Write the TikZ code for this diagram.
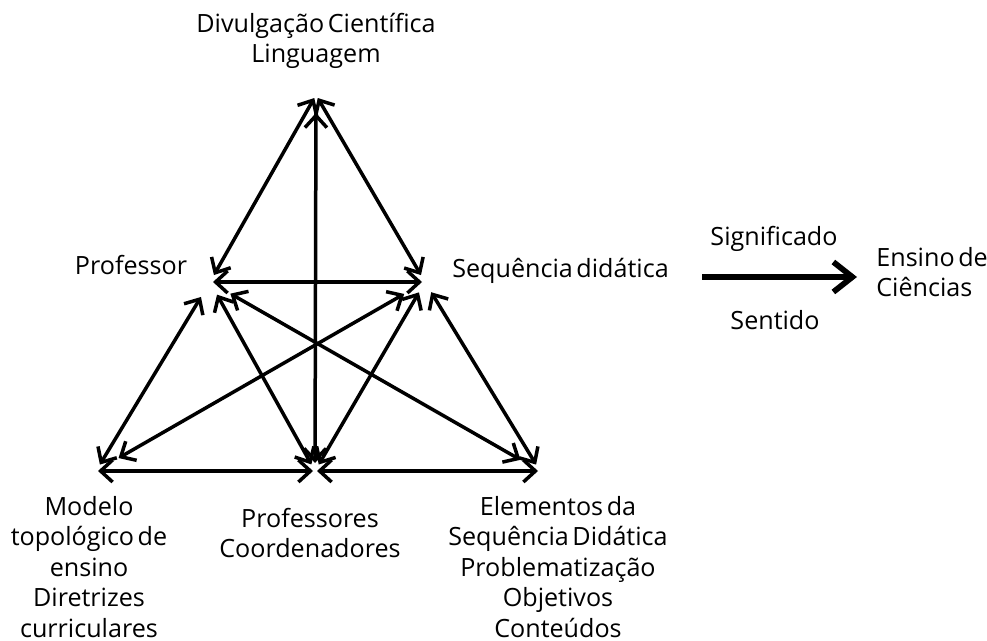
\documentclass[tikz,border=0pt]{standalone}
\usepackage{fontspec}
\setmainfont{Open Sans}[WordSpace=0.55]
\usetikzlibrary{arrows.meta}

\tikzset{
    link/.style={black, line width=0.7mm,
        {Straight Barb[length=2.4mm,width=4.4mm]}-{Straight Barb[length=2.4mm,width=4.4mm]}},
    bigarrow/.style={black, line width=1.15mm, -{Straight Barb[length=3.8mm,width=6mm]}},
    lbl/.style={inner sep=0pt, align=center},
}

\begin{document}
\begin{tikzpicture}[x=0.02cm, y=-0.02cm, font=\fontsize{14.3}{17.3}\selectfont]
        \useasboundingbox (0,0) rectangle (987,641);

        % hubs where the arrows meet
        \coordinate (top) at (316,95);
        \coordinate (prof) at (210,282);
        \coordinate (seq) at (425,282);
        \coordinate (mod) at (96,471);
        \coordinate (pc) at (315,471);
        \coordinate (elem) at (540,471);

        % labels
        \node[lbl, anchor=north] (divul) at (316,13) {Divulgação Científica\\Linguagem};
        \node[lbl, anchor=base] (profl) at (131,275) {Professor};
        \node[lbl, anchor=base west] (seql) at (452,278) {Sequência didática};
        \node[lbl, anchor=north] (modl) at (89,496) {Modelo\\topológico de\\ensino\\Diretrizes\\curriculares};
        \node[lbl, anchor=north] (pcl) at (310,508) {Professores\\Coordenadores};
        \node[lbl, anchor=north] (eleml) at (558,496) {Elementos da\\Sequência Didática\\Problematização\\Objetivos\\Conteúdos};

        % triangle of links
        \foreach \a/\b/\s/\e in {top/prof/0.7/1.6, top/seq/0.7/1.6, top/pc/3.6/1.6,
                prof/seq/0.6/0.6, prof/mod/3.5/1.5, prof/pc/2.9/1.5, prof/elem/4.7/4.5,
                seq/mod/4.8/5.2, seq/pc/2.4/1.5, seq/elem/2.4/1.5,
                mod/pc/0.4/0.4, pc/elem/0.4/0.4} {
            \draw [link, shorten <=\s mm, shorten >=\e mm] (\a) -- (\b);
        }

        % result
        \coordinate (from) at (702,277);
        \coordinate (to) at (857,277);
        \draw [bigarrow] (from) -- (to);
        \node[lbl, anchor=base] (sig) at (774,246) {Significado};
        \node[lbl, anchor=base] (sent) at (775,330) {Sentido};
        \node[lbl, anchor=north west, align=left] (ens) at (876,247) {Ensino de\\Ciências};
    \end{tikzpicture}
\end{document}
